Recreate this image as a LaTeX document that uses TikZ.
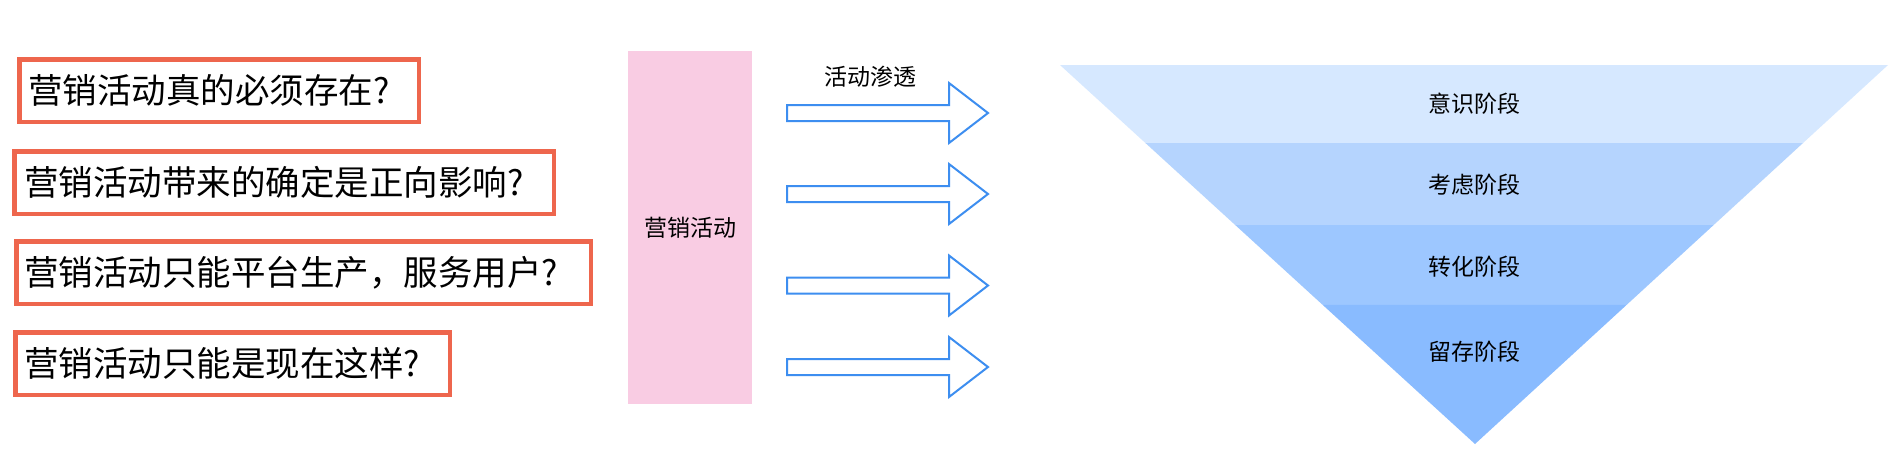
\documentclass[tikz,border=0pt]{standalone}
\usepackage{fontspec}
\newfontfamily\cjk{Noto Sans CJK SC}
\usetikzlibrary{calc}
\definecolor{boxred}{RGB}{238,102,77}
\definecolor{arrowblue}{RGB}{61,142,240}
\definecolor{pinkbar}{RGB}{249,204,227}
\definecolor{bandA}{RGB}{214,232,255}
\definecolor{bandB}{RGB}{181,212,254}
\definecolor{bandC}{RGB}{157,199,255}
\definecolor{bandD}{RGB}{137,187,255}
\begin{document}
\begin{tikzpicture}[x=1pt,y=-1pt,
  qbox/.style={draw=boxred,line width=4.5pt,fill=white},
  qtext/.style={font=\cjk\fontsize{34.5}{40}\selectfont,inner sep=0pt,anchor=west,text=black},
  smalltext/.style={font=\cjk\fontsize{23}{28}\selectfont,inner sep=0pt,text=black},
  blockarrow/.style={draw=arrowblue,line width=2pt,fill=white,line join=miter}]
\useasboundingbox (0,0) rectangle (1900,472);
\fill[white] (0,0) rectangle (1900,472);

% question boxes
\draw[qbox] (19.25,59.25) rectangle (418.75,121.75);
\node[qtext] (q1) at (28,90.5) {营销活动真的必须存在?};
\draw[qbox] (14.25,151.25) rectangle (553.75,213.75);
\node[qtext] (q2) at (24,182.5) {营销活动带来的确定是正向影响?};
\draw[qbox] (16.25,241.25) rectangle (590.75,303.75);
\node[qtext] (q3) at (24,272.5) {营销活动只能平台生产，服务用户?};
\draw[qbox] (15.25,332.25) rectangle (449.75,394.75);
\node[qtext] (q4) at (24,363.5) {营销活动只能是现在这样?};

% pink bar
\fill[pinkbar] (628,51) rectangle (752,404);
\node[smalltext] (act) at (690,228) {营销活动};

% arrows
\node[smalltext] (lab) at (870,77) {活动渗透};
\foreach \c in {113,194,285.5,367}{
  \draw[blockarrow] (787,\c-8) -- (949,\c-8) -- (949,\c-30) -- (988,\c)
     -- (949,\c+30) -- (949,\c+8) -- (787,\c+8) -- cycle;
}

% funnel
\coordinate (tl) at (1060,65);
\coordinate (tr) at (1888,65);
\coordinate (ap) at (1475,444);
\coordinate (l1) at ($(tl)!0.2058!(ap)$);
\coordinate (r1) at ($(tr)!0.2058!(ap)$);
\coordinate (l2) at ($(tl)!0.4222!(ap)$);
\coordinate (r2) at ($(tr)!0.4222!(ap)$);
\coordinate (l3) at ($(tl)!0.6332!(ap)$);
\coordinate (r3) at ($(tr)!0.6332!(ap)$);
\fill[bandA] (tl) -- (tr) -- (r1) -- (l1) -- cycle;
\fill[bandB] (l1) -- (r1) -- (r2) -- (l2) -- cycle;
\fill[bandC] (l2) -- (r2) -- (r3) -- (l3) -- cycle;
\fill[bandD] (l3) -- (r3) -- (ap) -- cycle;
\node[smalltext] (s1) at (1474,104) {意识阶段};
\node[smalltext] (s2) at (1474,185) {考虑阶段};
\node[smalltext] (s3) at (1474,267) {转化阶段};
\node[smalltext] (s4) at (1474,352) {留存阶段};
\end{tikzpicture}
\end{document}
